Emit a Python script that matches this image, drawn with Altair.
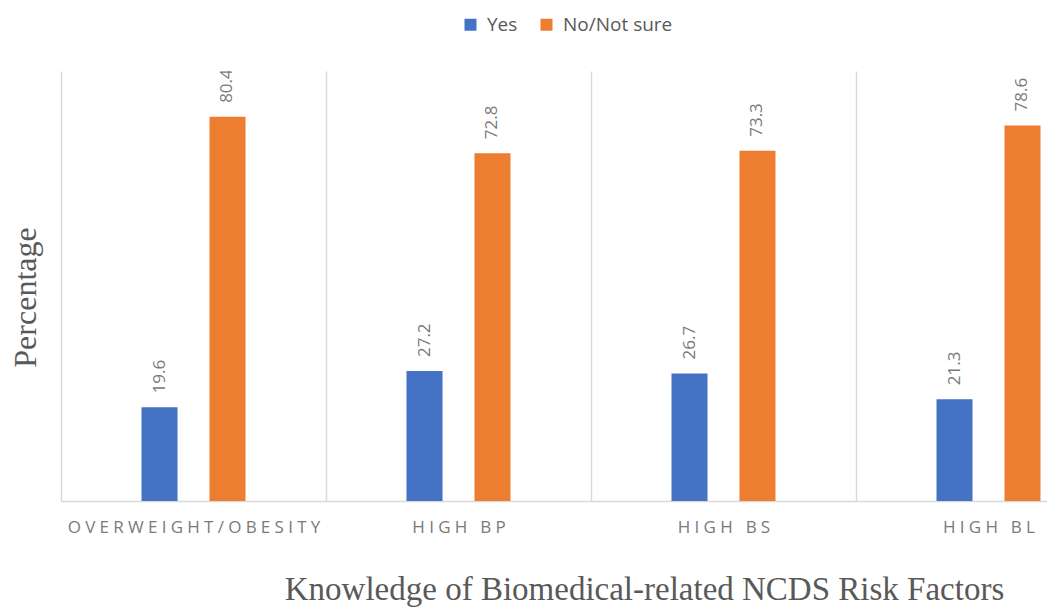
import altair as alt
import pandas as pd

# Knowledge of biomedical NCD risk factors (%)
categories = ["OVERWEIGHT/OBESITY", "HIGH BP", "HIGH BS", "HIGH BL"]
responses = ["Yes", "No/Not sure"]
yes_pct = [19.6, 27.2, 26.7, 21.3]
no_pct = [80.4, 72.8, 73.3, 78.6]
colors = ["#4472C4", "#ED7D31"]

rows = []
for cat, y, n in zip(categories, yes_pct, no_pct):
    rows.append({"factor": cat, "response": "Yes", "pct": y})
    rows.append({"factor": cat, "response": "No/Not sure", "pct": n})
df = pd.DataFrame(rows)

label_font = "Open Sans"
title_font = "Liberation Serif"
gray = "#7a7a7a"

x_enc = alt.X(
    "factor:N",
    sort=categories,
    scale=alt.Scale(range=[0, 1060], paddingInner=0, paddingOuter=0),
    axis=alt.Axis(
        title="Knowledge of Biomedical-related NCDS Risk Factors",
        titleFont=title_font,
        titleFontSize=33,
        titleFontWeight="normal",
        titleColor="#595959",
        titleX=583,
        titleY=98,
        titleAlign="center",
        titleBaseline="alphabetic",
        labelExpr="join(split(datum.label, ''), '\u2005')",
        labelFont=label_font,
        labelFontSize=17,
        labelColor=gray,
        labelAngle=0,
        labelPadding=18,
        labelBaseline="top",
        labelLimit=0,
        ticks=False,
        tickBand="extent",
        grid=True,
        gridColor="#d9d9d9",
        gridWidth=1.5,
        domainColor="#d9d9d9",
        domainWidth=1.5,
    ),
)

y_enc = alt.Y(
    "pct:Q",
    scale=alt.Scale(domain=[0, 90], nice=False),
    axis=alt.Axis(
        title="Percentage",
        titleFont=title_font,
        titleFontSize=32,
        titleFontWeight="normal",
        titleColor="#595959",
        titleAngle=270,
        titleAlign="center",
        titleBaseline="middle",
        titleX=-36,
        titleY=226,
        labels=False,
        ticks=False,
        domain=False,
        grid=False,
    ),
)

# two bars per group, 36 px wide on a 68 px step, inset within each 265 px group
offset_scale = alt.Scale(range=[80.5, 184.5], paddingInner=0.47, paddingOuter=0)

color_enc = alt.Color(
    "response:N",
    sort=responses,
    scale=alt.Scale(domain=responses, range=colors),
    legend=alt.Legend(
        title=None,
        orient="none",
        direction="horizontal",
        legendX=400,
        legendY=-56,
        symbolType="square",
        symbolSize=144,
        symbolStrokeWidth=0,
        labelFont=label_font,
        labelFontSize=19,
        labelColor="#595959",
        labelOffset=7,
        columnPadding=19,
        padding=0,
    ),
)

bars = alt.Chart(df).mark_bar(clip=True).encode(
    x=x_enc,
    y=y_enc,
    xOffset=alt.XOffset("response:N", sort=responses, scale=offset_scale),
    color=color_enc,
)

labels = alt.Chart(df).mark_text(
    angle=270,
    align="left",
    baseline="middle",
    dx=14,
    font=label_font,
    fontSize=17,
    color=gray,
    clip=True,
).encode(
    x=alt.X("factor:N", sort=categories),
    y="pct:Q",
    xOffset=alt.XOffset("response:N", sort=responses),
    text=alt.Text("pct:Q", format=".1f"),
)

chart = (
    alt.layer(bars, labels)
    .properties(
        width=986,
        height=430,
        autosize=alt.AutoSizeParams(type="none"),
        padding={"left": 61, "top": 71, "right": 0, "bottom": 107},
        background="white",
    )
    .configure_view(stroke=None)
)

chart.save("out.html", embed_options={"renderer": "svg", "actions": False})
